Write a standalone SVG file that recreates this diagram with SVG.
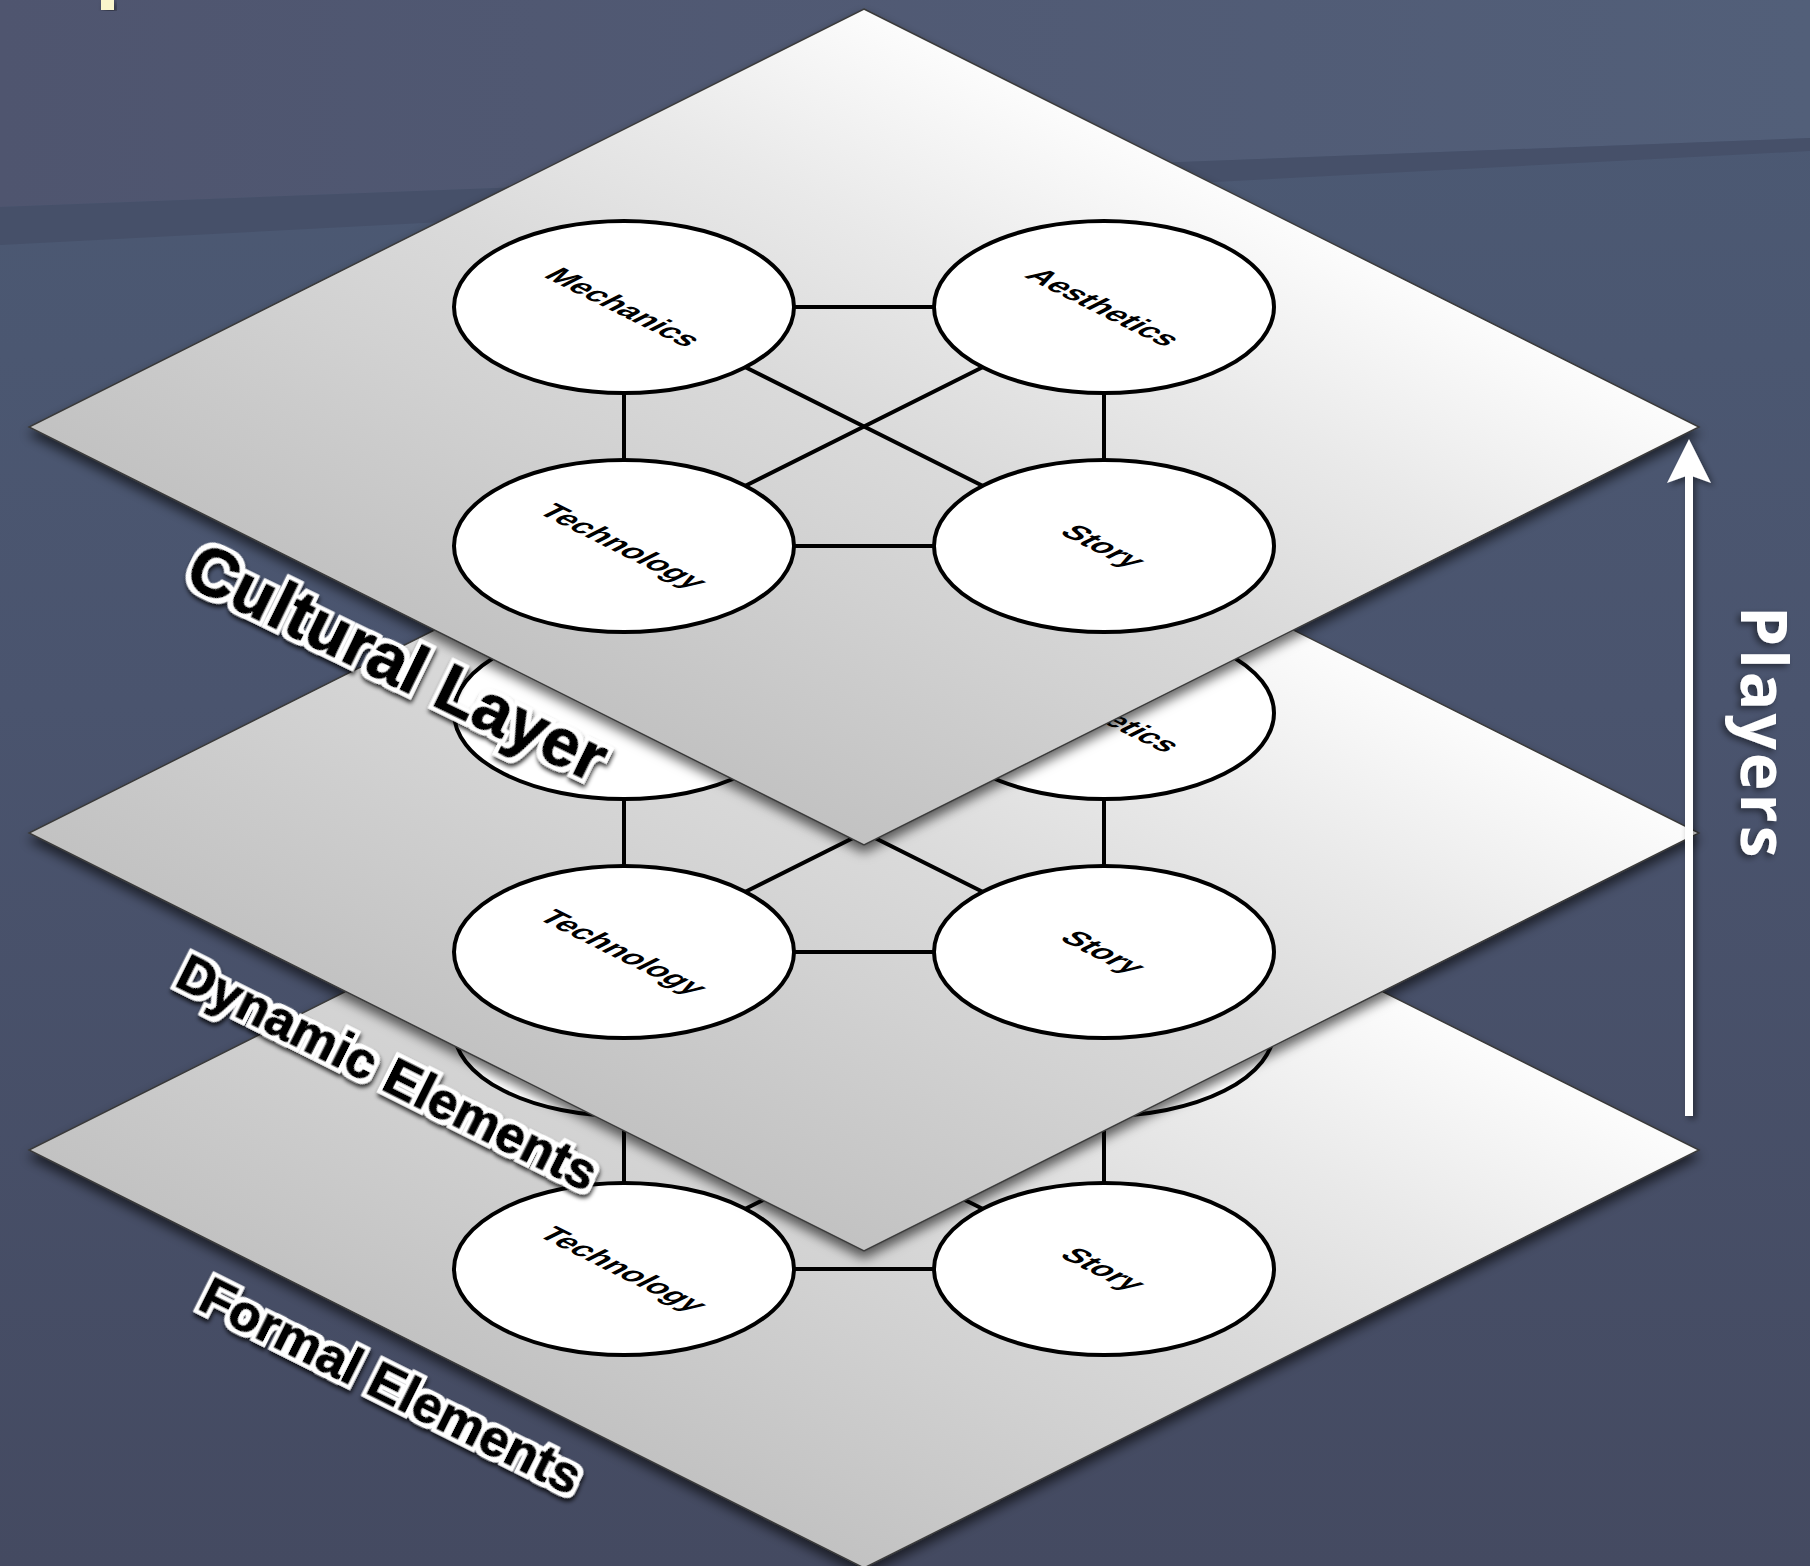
<svg xmlns="http://www.w3.org/2000/svg" width="1810" height="1566" viewBox="0 0 1810 1566">
<defs>
  <linearGradient id="bg" x1="0" y1="0" x2="0" y2="1">
    <stop offset="0" stop-color="#4c5a74"/>
    <stop offset="0.45" stop-color="#4a546e"/>
    <stop offset="1" stop-color="#444a61"/>
  </linearGradient>
  <linearGradient id="bgTop" x1="0" y1="0" x2="1" y2="0">
    <stop offset="0" stop-color="#4f556f"/>
    <stop offset="1" stop-color="#525f79"/>
  </linearGradient>
  <linearGradient id="plane" x1="0" y1="1" x2="1" y2="0">
    <stop offset="0.25" stop-color="#c2c2c2"/>
    <stop offset="0.4" stop-color="#d1d1d1"/>
    <stop offset="0.5" stop-color="#dadada"/>
    <stop offset="0.62" stop-color="#e9e9e9"/>
    <stop offset="0.75" stop-color="#fcfcfc"/>
  </linearGradient>
  <filter id="planeShadow" x="-5%" y="-5%" width="110%" height="115%">
    <feDropShadow dx="0" dy="7" stdDeviation="6" flood-color="#000" flood-opacity="0.6"/>
  </filter>
  <filter id="halo" x="-10%" y="-30%" width="120%" height="160%">
    <feMorphology in="SourceAlpha" operator="dilate" radius="3.5" result="d"/>
    <feFlood flood-color="#ffffff" result="w"/>
    <feComposite in="w" in2="d" operator="in" result="white"/>
    <feGaussianBlur in="d" stdDeviation="2" result="b"/>
    <feOffset in="b" dx="1.5" dy="2.5" result="o"/>
    <feFlood flood-color="#000000" flood-opacity="0.8" result="k"/>
    <feComposite in="k" in2="o" operator="in" result="shadow"/>
    <feMerge>
      <feMergeNode in="shadow"/>
      <feMergeNode in="white"/>
      <feMergeNode in="SourceGraphic"/>
    </feMerge>
  </filter>
  <filter id="softShadow" x="-20%" y="-10%" width="140%" height="120%">
    <feDropShadow dx="3" dy="3" stdDeviation="3" flood-color="#000" flood-opacity="0.45"/>
  </filter>
  <style>
    .plane { fill: url(#plane); stroke: #3a3a3a; stroke-width: 1.5; filter: url(#planeShadow); }
    .node ellipse { fill: #ffffff; stroke: #000000; stroke-width: 4; }
    .conn line { stroke: #000000; stroke-width: 4; }
    .lbl { font-family: "Liberation Sans", Arial, Helvetica, sans-serif; font-weight: bold; font-size: 28px; text-anchor: middle; fill: #000000; }
    .layer { font-family: "Liberation Sans", Arial, Helvetica, sans-serif; font-weight: bold; fill: #000000; stroke: #000000; stroke-width: 1.5; stroke-linejoin: round; filter: url(#halo); }
    .players { font-family: "Open Sans", "Liberation Sans", sans-serif; font-weight: bold; font-size: 64px; letter-spacing: 3px; fill: #ffffff; filter: url(#softShadow); }
  </style>
</defs>

<g id="background">
  <rect x="0" y="0" width="1810" height="1566" fill="url(#bg)"/>
  <polygon points="0,0 1810,0 1810,138 0,207" fill="url(#bgTop)"/>
  <polygon points="0,207 1810,138 1810,151 0,245" fill="#465069"/>
  <rect x="101" y="0" width="13" height="10" fill="#fbf6cc" filter="url(#softShadow)"/>
</g>

<!-- Formal Elements plane (bottom) -->
<g id="formal-plane" transform="translate(864,1150)">
  <polygon class="plane" points="0,-418 835,0 0,418 -835,0"/>
  <g id="formal-connectors" class="conn">
    <line x1="-70" y1="-120" x2="70" y2="-120"/>
    <line x1="-70" y1="119" x2="70" y2="119"/>
    <line x1="-240" y1="-34" x2="-240" y2="33"/>
    <line x1="240" y1="-34" x2="240" y2="33"/>
    <line x1="-119" y1="-60" x2="119" y2="59"/>
    <line x1="119" y1="-60" x2="-119" y2="59"/>
  </g>
  <g id="formal-mechanics" class="node"><ellipse cx="-240" cy="-120" rx="170" ry="86"/></g>
  <g id="formal-aesthetics" class="node"><ellipse cx="240" cy="-120" rx="170" ry="86"/></g>
  <g id="formal-technology" class="node"><ellipse cx="-240" cy="119" rx="170" ry="86"/>
    <text class="lbl" transform="matrix(1 0.5 -1 0.5 -240 119)" y="10">Technology</text></g>
  <g id="formal-story" class="node"><ellipse cx="240" cy="119" rx="170" ry="86"/>
    <text class="lbl" transform="matrix(1 0.5 -1 0.5 240 119)" y="10">Story</text></g>
</g>

<!-- Dynamic Elements plane (middle) -->
<g id="dynamic-plane" transform="translate(864,833)">
  <polygon class="plane" points="0,-418 835,0 0,418 -835,0"/>
  <g id="dynamic-connectors" class="conn">
    <line x1="-70" y1="-120" x2="70" y2="-120"/>
    <line x1="-70" y1="119" x2="70" y2="119"/>
    <line x1="-240" y1="-34" x2="-240" y2="33"/>
    <line x1="240" y1="-34" x2="240" y2="33"/>
    <line x1="-119" y1="-60" x2="119" y2="59"/>
    <line x1="119" y1="-60" x2="-119" y2="59"/>
  </g>
  <g id="dynamic-mechanics" class="node"><ellipse cx="-240" cy="-120" rx="170" ry="86"/></g>
  <g id="dynamic-aesthetics" class="node"><ellipse cx="240" cy="-120" rx="170" ry="86"/>
    <text class="lbl" transform="matrix(1 0.5 -1 0.5 240 -120)" y="10">Aesthetics</text></g>
  <g id="dynamic-technology" class="node"><ellipse cx="-240" cy="119" rx="170" ry="86"/>
    <text class="lbl" transform="matrix(1 0.5 -1 0.5 -240 119)" y="10">Technology</text></g>
  <g id="dynamic-story" class="node"><ellipse cx="240" cy="119" rx="170" ry="86"/>
    <text class="lbl" transform="matrix(1 0.5 -1 0.5 240 119)" y="10">Story</text></g>
</g>

<!-- Cultural Layer plane (top) -->
<g id="cultural-plane" transform="translate(864,427)">
  <polygon class="plane" points="0,-418 835,0 0,418 -835,0"/>
  <g id="cultural-connectors" class="conn">
    <line x1="-70" y1="-120" x2="70" y2="-120"/>
    <line x1="-70" y1="119" x2="70" y2="119"/>
    <line x1="-240" y1="-34" x2="-240" y2="33"/>
    <line x1="240" y1="-34" x2="240" y2="33"/>
    <line x1="-119" y1="-60" x2="119" y2="59"/>
    <line x1="119" y1="-60" x2="-119" y2="59"/>
  </g>
  <g id="cultural-mechanics" class="node"><ellipse cx="-240" cy="-120" rx="170" ry="86"/>
    <text class="lbl" transform="matrix(1 0.5 -1 0.5 -240 -120)" y="10">Mechanics</text></g>
  <g id="cultural-aesthetics" class="node"><ellipse cx="240" cy="-120" rx="170" ry="86"/>
    <text class="lbl" transform="matrix(1 0.5 -1 0.5 240 -120)" y="10">Aesthetics</text></g>
  <g id="cultural-technology" class="node"><ellipse cx="-240" cy="119" rx="170" ry="86"/>
    <text class="lbl" transform="matrix(1 0.5 -1 0.5 -240 119)" y="10">Technology</text></g>
  <g id="cultural-story" class="node"><ellipse cx="240" cy="119" rx="170" ry="86"/>
    <text class="lbl" transform="matrix(1 0.5 -1 0.5 240 119)" y="10">Story</text></g>
</g>

<!-- Layer labels -->
<g id="layer-labels">
  <text class="layer" font-size="68" transform="translate(182,583) rotate(26)">Cultural Layer</text>
  <text class="layer" font-size="52" transform="translate(173,985) rotate(26.6)">Dynamic Elements</text>
  <text class="layer" font-size="52" transform="translate(196,1308) rotate(26.6)">Formal Elements</text>
</g>

<!-- Players arrow -->
<g id="players-arrow" filter="url(#softShadow)">
  <line x1="1689" y1="1116" x2="1689" y2="472" stroke="#ffffff" stroke-width="8"/>
  <polygon points="1689,439 1711,483 1689,475 1667,483" fill="#ffffff"/>
</g>
<g id="players-label">
  <text class="players" transform="translate(1741,606) rotate(90)">Players</text>
</g>
</svg>
